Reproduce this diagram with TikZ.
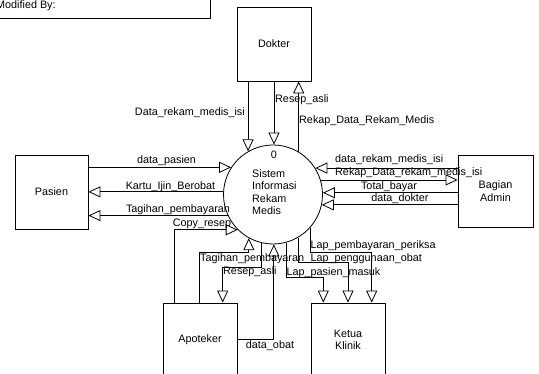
\documentclass[tikz,border=0pt]{standalone}
\usepackage{fontspec}
\setmainfont{Liberation Sans}
\usetikzlibrary{arrows.meta,calc}
\begin{document}
\begin{tikzpicture}[x=1pt,y=-1pt,
  every node/.style={font=\fontsize{10.8}{12.3}\selectfont, inner sep=0pt},
  ent/.style={draw, line width=0.8pt, minimum width=74pt, minimum height=74pt, align=center},
  proc/.style={draw, circle, line width=0.8pt, minimum size=99pt},
  flow/.style={line width=0.8pt, -{Triangle[open, length=12pt, width=11pt, line width=0.8pt]}}
]
\useasboundingbox (0,0) rectangle (539,374);
% header box
\draw[line width=0.8pt] (-10,-10) rectangle (210,18);
\node[anchor=west] (mod) at (-4,6) {Modified By:};
% entities
\node[ent] (dok) at (274,44) {Dokter};
\node[ent, minimum width=73pt] (pas) at (51.5,192) {Pasien};
\node[ent, minimum width=75pt, minimum height=72pt] (adm) at (495.5,191) {Bagian\\Admin};
\node[ent] (apo) at (200,340) {Apoteker};
\node[ent] (ket) at (348,340) {Ketua\\Klinik};
% process
\node[proc] (sys) at (273,194.5) {};
\node (num) at (274,155) {0};
\node[anchor=west, align=left] (name) at (252,192) {Sistem\\Informasi\\Rekam\\Medis};
% Dokter flows
\draw[flow] (sys.120.3 |- dok.south) -- (sys.120.3);
\draw[flow] (dok.south) -- (dok.south |- sys.north);
\draw[flow] (sys.59.7) -- (sys.59.7 |- dok.south);
% Pasien flows
\draw[flow] (pas.east |- sys.147.6) -- (sys.147.6);
\draw[flow] (sys.177.1) -- (sys.177.1 -| pas.east);
\draw[flow] (sys.205.7) -- (sys.205.7 -| pas.east);
% Admin flows
\draw[flow] (adm.west |- sys.32.4) -- (sys.32.4);
\draw[flow] (sys.17.6) -- (sys.17.6 -| adm.west);
\draw[flow] (adm.west |- sys.2.9) -- (sys.2.9);
\draw[flow] (adm.west |- sys.348.6) -- (sys.348.6);
% Apoteker flows
\draw[flow] ([xshift=-26pt]apo.north) |- (sys.225.8);
\draw[flow] ([xshift=-1pt]apo.north) -- ++(0,-50.3) -| (sys.241);
\draw[flow] (sys.256) |- ($(apo.north)+(22.7,-35.3)$) -- ([xshift=22.7pt]apo.north);
\draw[flow] ([yshift=1pt]apo.east) -| (sys.271.2);
% Ketua flows
\draw[flow] (sys.318.4) |- ($(ket.north)+(23.7,-49.7)$) -- ([xshift=23.7pt]ket.north);
\draw[flow] (sys.300.3) |- ($(ket.north)+(0,-39.7)$) -- (ket.north);
\draw[flow] (sys.285.2) |- ($(ket.north)+(-24.7,-25.3)$) -- ([xshift=-24.7pt]ket.north);
% labels
\node[anchor=east] (l1) at (245,113) {Data\_rekam\_medis\_isi};
\node[anchor=west] (l2) at (275,100) {Resep\_asli};
\node[anchor=west] (l3) at (299,121) {Rekap\_Data\_Rekam\_Medis};
\node (l4) at (166.5,161) {data\_pasien};
\node (l5) at (170.5,186.5) {Kartu\_Ijin\_Berobat};
\node (l6) at (178,209.5) {Tagihan\_pembayaran};
\node (l7) at (202,224) {Copy\_resep};
\node[anchor=west] (l8) at (335,160) {data\_rekam\_medis\_isi};
\node[anchor=west] (l9) at (335,173) {Rekap\_Data\_rekam\_medis\_isi};
\node (l10) at (389,186.5) {Total\_bayar};
\node (l11) at (400,198.5) {data\_dokter};
\node[anchor=west] (l12) at (200,258.5) {Tagihan\_pembayaran};
\node[anchor=west] (l13) at (223,271.7) {Resep\_asli};
\node[anchor=west] (l14) at (310.5,245.5) {Lap\_pembayaran\_periksa};
\node[anchor=west] (l15) at (310.5,258.3) {Lap\_penggunaan\_obat};
\node[anchor=west] (l16) at (286.5,272.5) {Lap\_pasien\_masuk};
\node (l17) at (270,345.5) {data\_obat};
\end{tikzpicture}
\end{document}
